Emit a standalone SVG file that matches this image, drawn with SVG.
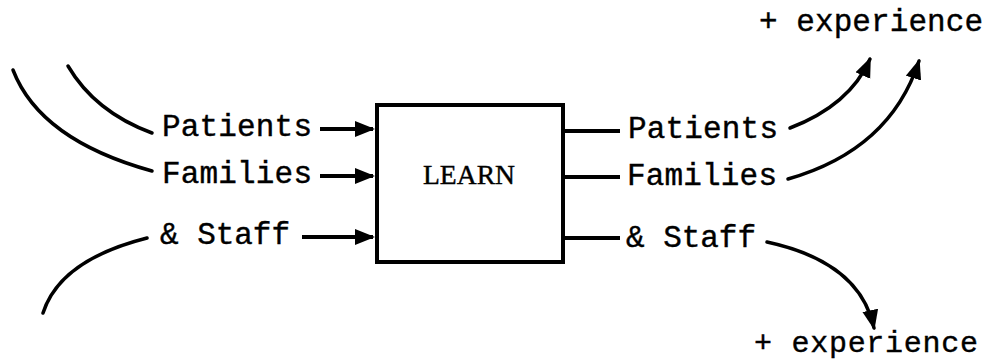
<svg xmlns="http://www.w3.org/2000/svg" width="986" height="362" viewBox="0 0 986 362">
<style>
  .lbl { font-family: "Liberation Mono", "DejaVu Sans Mono", monospace; font-size: 31px; fill: #000; stroke: #000; stroke-width: 0.4; }
  .title { font-family: "Liberation Serif", "DejaVu Serif", serif; font-size: 27px; fill: #000; stroke: #000; stroke-width: 0.4; }
  .ln { fill: none; stroke: #000; stroke-width: 4; }
  .cv { fill: none; stroke: #000; stroke-width: 3.5; stroke-linecap: round; }
  .box { fill: #fff; stroke: #000; stroke-width: 4; }
</style>
<defs>
  <marker id="ah" markerUnits="userSpaceOnUse" markerWidth="22" markerHeight="18" refX="18" refY="8" orient="auto" viewBox="0 0 22 18">
    <path d="M0,0 L20,8 L0,16 z" fill="#000"/>
  </marker>
</defs>
<rect width="986" height="362" fill="#fff"/>
<g id="connectors">
  <path class="ln" d="M320,129 L373,129" marker-end="url(#ah)"/>
  <path class="ln" d="M320,176 L373,176" marker-end="url(#ah)"/>
  <path class="ln" d="M302,237 L373,237" marker-end="url(#ah)"/>
  <path class="ln" d="M563,131 L620,131"/>
  <path class="ln" d="M563,177 L620,177"/>
  <path class="ln" d="M563,238 L620,238"/>
  <path class="cv" d="M68,66 Q95,112 152,133"/>
  <path class="cv" d="M13,70 Q40,140 152,171"/>
  <path class="cv" d="M43,313 Q60,260 147,238"/>
  <path class="cv" d="M790,128 Q850,105 870,59" marker-end="url(#ah)"/>
  <path class="cv" d="M788,179 Q890,150 919,61" marker-end="url(#ah)"/>
  <path class="cv" d="M767,242 Q860,262 874,328" marker-end="url(#ah)"/>
</g>
<g id="learn">
  <rect class="box" x="377" y="105" width="186" height="157"/>
  <text class="title" x="423" y="184" textLength="92" lengthAdjust="spacingAndGlyphs">LEARN</text>
</g>
<g id="in-patients"><text class="lbl" x="162" y="136" textLength="150">Patients</text></g>
<g id="in-families"><text class="lbl" x="162" y="183" textLength="150">Families</text></g>
<g id="in-staff"><text class="lbl" x="160" y="244" textLength="130">&amp; Staff</text></g>
<g id="out-patients"><text class="lbl" x="628" y="138" textLength="150">Patients</text></g>
<g id="out-families"><text class="lbl" x="627" y="185" textLength="150">Families</text></g>
<g id="out-staff"><text class="lbl" x="626" y="247" textLength="130">&amp; Staff</text></g>
<g id="exp-top"><text class="lbl" x="759" y="31" textLength="224">+ experience</text></g>
<g id="exp-bottom"><text class="lbl" x="754" y="352" textLength="224" style="font-size:30px">+ experience</text></g>
</svg>
